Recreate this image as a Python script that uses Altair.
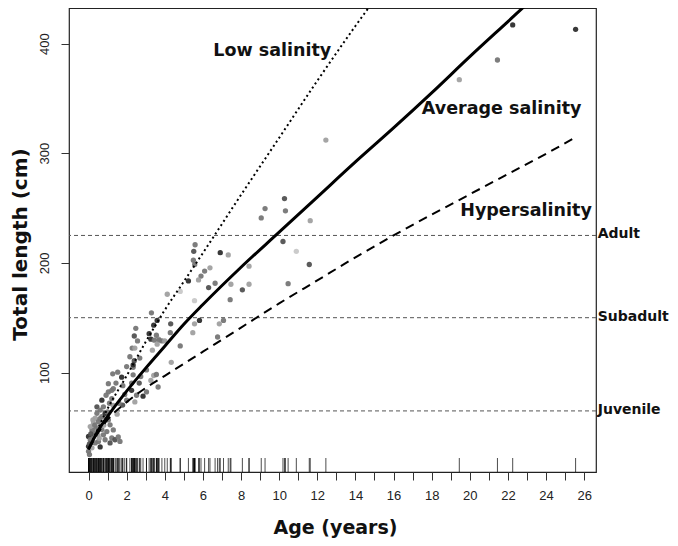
import altair as alt
import pandas as pd

# ---------------- data ----------------
# scatter points: age (years), total length (cm), grey shade code (1 = dark ... 5 = very light)
ages = [10.28, 9.26, 9.06, 10.33, 11.63, 10.2, 10.9, 11.58, 8.42, 8.42, 10.47, 8.07, 12.45, 19.45, 21.45, 22.25, 25.55,
        5.59, 5.52, 5.5, 5.57, 6.91, 7.33, 6.37, 6.09, 5.9, 5.77, 5.24, 6.64, 6.3, 7.47, 7.43, 4.13, 4.81, 5.56,
        5.82, 5.56, 7.08, 6.86, 5.47, 6.77, 4.31, 4.29, 4.81, 4.34,
        3.3, 3.6, 3.42, 3.18, 3.27, 2.48, 2.4, 2.57, 2.29, 2.43, 2.17, 2.4, 2.69, 2.34, 3.35, 3.68,
        3.56, 3.7, 3.85, 4.0, 3.45, 3.6,
        2.34, 2.0, 3.04, 1.53, 1.74, 1.27, 2.34, 2.74, 3.42, 1.04, 1.44, 2.26, 2.66, 3.27, 0.7, 1.04, 1.3,
        0.92, 1.22, 2.26, 2.52, 2.86, 2.0, 2.43, 1.79, 3.04, 3.56, 3.65, 0.44, 1.22,
        0.44, 0.61, 0.78, 0.35, 0.52, 0.26, 0.7, 0.87, 0.4, 0.18, 0.61, 1.04, 1.13, 1.3, 0.96, 1.22, 1.39,
        1.56, 1.65, 1.13, 0.87, 0.52, 0.61, 0.26, 0.0, 0.0, 0.0, 0.05, 0.35, 0.78, 0.44, 0.09, 0.23, 0.09, 0.18,
        1.6, 1.9, 1.5, 1.8, 1.3, 1.1, 0.95, 0.6, 0.3, 0.15, 0.5, 0.7, 0.8, 1.0, 0.12, 0.33, 0.56, 0.05]
lengths = [258.6, 249.5, 241, 247.5, 238.5, 219.5, 210.5, 198.5, 197, 180.5, 181, 175.4, 312, 367, 385, 417, 413,
           216.5, 210.5, 202.4, 198.5, 209.3, 207.2, 195.5, 192.5, 188, 184.4, 183.5, 181.4, 177.5, 180.5, 166.4, 171.4, 174, 165.5,
           147.5, 144.4, 147.5, 144.4, 136.3, 132.4, 144.4, 136.3, 124.3, 109.3,
           154.4, 147.5, 143.2, 135.4, 130.4, 140.3, 133.3, 128.8, 122.3, 122.3, 114.4, 110.8, 113.2, 104.8, 120.4, 130.4,
           134, 129.5, 128.8, 128.8, 129.5, 125.9,
           107, 105.4, 102.4, 100.3, 95.8, 98.8, 97.9, 96.4, 97.3, 89.8, 90.4, 90.4, 90.4, 92.8, 74.8, 82.3, 85.3,
           79.3, 76.3, 83.8, 79.3, 78.4, 74.8, 73.2, 70.3, 82.3, 98.2, 86.8, 68.7, 83.8,
           62.8, 65.8, 68.7, 58.3, 55.2, 53.8, 59.7, 62.8, 49.3, 47.7, 50.7, 56.8, 52.3, 47.7, 46.2, 40.3, 38.7,
           41.2, 37.2, 35.8, 38.7, 37.2, 32.2, 41.7, 41.7, 32.7, 28.2, 25.2, 35.8, 43.2, 46.2, 50.7, 56.8, 38.7, 31.3,
           72, 80, 62, 88, 70, 72, 58, 58, 45, 36, 43, 48, 52, 64, 44, 52, 40, 35]
shades = [2, 3, 3, 3, 4, 2, 5, 2, 4, 4, 3, 2, 4, 4, 3, 1, 1,
          3, 2, 3, 3, 1, 4, 4, 3, 3, 4, 1, 3, 2, 4, 3, 4, 5, 5,
          1, 4, 3, 4, 4, 3, 2, 3, 3, 4,
          3, 1, 1, 1, 1, 3, 2, 3, 3, 4, 3, 2, 3, 3, 4, 4,
          3, 3, 3, 4, 3, 4,
          1, 3, 3, 3, 1, 3, 3, 3, 4, 3, 3, 3, 2, 4, 1, 3, 3,
          3, 3, 1, 3, 1, 3, 4, 2, 3, 3, 3, 2, 3,
          3, 3, 3, 4, 3, 4, 3, 1, 3, 3, 4, 3, 3, 3, 3, 3, 2,
          3, 3, 2, 3, 3, 1, 3, 1, 1, 3, 3, 3, 3, 4, 4, 4, 3, 4,
          3, 3, 4, 3, 4, 3, 4, 3, 3, 3, 4, 3, 4, 3, 2, 3, 4, 2]

# growth curves
avg_age = [0, 0.5, 1, 2, 3, 4, 5, 6, 8, 10, 12, 14, 16, 18, 20, 22, 23, 23.4]
avg_len = [30, 47, 60, 83, 104, 124, 144, 162, 196, 228, 260, 292, 323, 355, 388, 420, 436, 442]
low_age = [0, 0.5, 1, 2, 3, 4, 5, 6, 8, 10, 12, 14, 15]
low_len = [30, 49, 67, 97, 128, 157, 183, 209, 262, 314, 366, 416, 440]
hyp_age = [0, 0.5, 1, 2, 3, 4, 5, 6, 8, 10, 12, 14, 16, 18, 20, 22, 24, 25.5]
hyp_len = [30, 45, 57, 73, 86, 97, 108, 119, 141, 163, 184, 205, 225, 244, 262.5, 281, 299.5, 314]

# size-class thresholds
stage_len = [65, 150, 225]
stage_lab = ["Juvenile", "Subadult", "Adult"]

# curve annotations
ann_lab = ["Low salinity", "Average salinity", "Hypersalinity"]
ann_age = [9.64, 21.67, 22.95]
ann_len = [392.8, 340.5, 247.5]

x_ticks = list(range(0, 27))
y_ticks = [100, 200, 300, 400]

shade_codes = [1, 2, 3, 4, 5]
shade_cols = ["#2e2e2e", "#525252", "#767676", "#a0a0a0", "#c8c8c8"]

# ---------------- tables ----------------
pts = pd.DataFrame({"age": ages, "len": lengths, "shade": shades})
avg_df = pd.DataFrame({"age": avg_age, "len": avg_len})
low_df = pd.DataFrame({"age": low_age, "len": low_len})
hyp_df = pd.DataFrame({"age": hyp_age, "len": hyp_len})
stages = pd.DataFrame({"len": stage_len, "label": stage_lab, "age": [26.71] * 3})
ann = pd.DataFrame({"age": ann_age, "len": ann_len, "label": ann_lab})

FONT_T = "Liberation Sans"
FONT_B = "DejaVu Sans"

X = alt.X("age:Q",
          scale=alt.Scale(domain=[-1.024, 26.62], nice=False, zero=False),
          axis=alt.Axis(values=x_ticks, grid=False, domain=False, tickSize=8, tickColor="#333",
                        labelExpr="datum.value % 2 == 0 ? datum.label : ''",
                        labelFont=FONT_T, labelFontSize=13, labelColor="#222", labelPadding=9,
                        title="Age (years)", titleFont=FONT_B, titleFontWeight="bold", titleFontSize=19,
                        titleColor="#111", titleX=266, titleY=55, titleAlign="center", titleBaseline="middle"))
Y = alt.Y("len:Q",
          scale=alt.Scale(domain=[9.3, 432.4], nice=False, zero=False),
          axis=alt.Axis(values=y_ticks, grid=False, domain=False, tickSize=8, tickColor="#333",
                        labelFont=FONT_T, labelFontSize=13, labelColor="#222", labelPadding=10,
                        labelAngle=270, labelAlign="center", labelBaseline="bottom",
                        title="Total length (cm)", titleFont=FONT_B, titleFontWeight="bold", titleFontSize=20,
                        titleColor="#111", titleAngle=270, titleX=-49, titleY=236,
                        titleAlign="center", titleBaseline="middle"))

hlines = alt.Chart(stages).mark_rule(color="#555", strokeDash=[4, 3], strokeWidth=1).encode(y=Y)

points = alt.Chart(pts).mark_circle(size=28, opacity=0.95).encode(
    x=X, y=Y,
    color=alt.Color("shade:O", scale=alt.Scale(domain=shade_codes, range=shade_cols), legend=None))

rug = alt.Chart(pts).mark_rule(color="#000", strokeWidth=1, opacity=0.7).encode(
    x=X, y=alt.value(450), y2=alt.value(464))

avg = alt.Chart(avg_df).mark_line(
    color="#000", strokeWidth=3, interpolate="monotone", clip=True).encode(x=X, y=Y)
low = alt.Chart(low_df).mark_line(
    color="#000", strokeWidth=2, strokeDash=[2, 3], interpolate="monotone", clip=True).encode(x=X, y=Y)
hyp = alt.Chart(hyp_df).mark_line(
    color="#000", strokeWidth=2, strokeDash=[9, 6], interpolate="monotone", clip=True).encode(x=X, y=Y)

ann_txt = alt.Chart(ann).mark_text(font=FONT_B, fontWeight="bold", fontSize=17.5, color="#111",
                                   align="center", baseline="middle").encode(x=X, y=Y, text="label:N")

stage_txt = alt.Chart(stages).mark_text(font=FONT_B, fontWeight="bold", fontSize=14, color="#111",
                                        align="left", baseline="middle", dy=-1).encode(x=X, y=Y, text="label:N")

chart = alt.layer(hlines, rug, points, hyp, low, avg, ann_txt, stage_txt).properties(
    width=527, height=464,
    autosize=alt.AutoSizeParams(type="none"),
    padding={"left": 61, "top": 0, "right": 74, "bottom": 66},
    background="white",
).configure_view(stroke="#222", strokeWidth=1.2)

chart.save("out.html", embed_options={"renderer": "svg", "actions": False})
